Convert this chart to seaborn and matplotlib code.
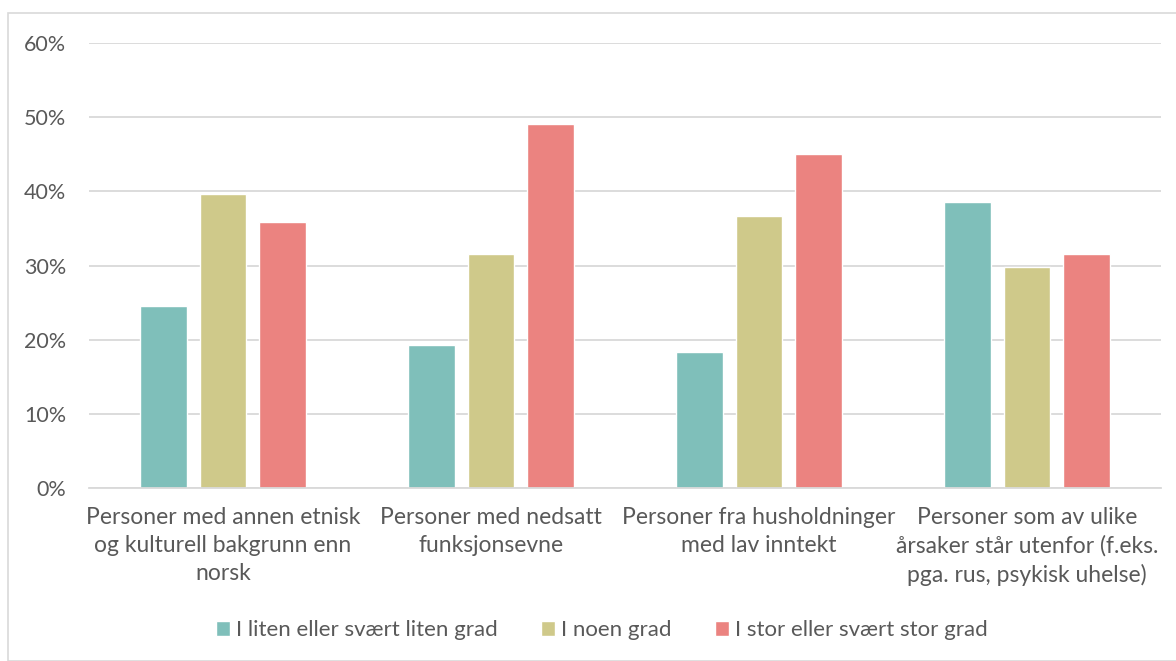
import pandas as pd
import matplotlib.pyplot as plt
import seaborn as sns
from matplotlib.ticker import PercentFormatter
from matplotlib.patches import Rectangle

categories = [
    "Personer med annen etnisk\nog kulturell bakgrunn enn\nnorsk",
    "Personer med nedsatt\nfunksjonsevne",
    "Personer fra husholdninger\nmed lav inntekt",
    "Personer som av ulike\nårsaker står utenfor (f.eks.\npga. rus, psykisk uhelse)",
]
series = ["I liten eller svært liten grad", "I noen grad", "I stor eller svært stor grad"]
liten = [24.5, 19.3, 18.3, 38.5]
noen = [39.6, 31.5, 36.7, 29.8]
stor = [35.8, 49.1, 45.0, 31.5]
colors = ["#7FBFBA", "#CFC98A", "#EB8380"]

df = pd.DataFrame({
    "kategori": categories * 3,
    "serie": [series[0]] * 4 + [series[1]] * 4 + [series[2]] * 4,
    "verdi": liten + noen + stor,
})

sns.set_style("white")
plt.rcParams['font.family'] = ['Lato', 'DejaVu Sans']
txt = "#595959"

fig = plt.figure(figsize=(11.76, 6.61), dpi=100)
ax = fig.add_axes([89 / 1176, 1 - 488 / 661, (1161 - 89) / 1176, (488 - 43) / 661])

sns.barplot(data=df, x="kategori", y="verdi", hue="serie", palette=colors,
            saturation=1, width=0.665, gap=0.22, ax=ax, legend=True)

ax.set_ylim(0, 60)
ax.set_xlim(-0.5, 3.5)
ax.set_yticks(range(0, 61, 10))
ax.yaxis.set_major_formatter(PercentFormatter(decimals=0))
ax.grid(axis="y", color="#D9D9D9", linewidth=1.3)
ax.set_axisbelow(True)
for s in ["top", "right", "left"]:
    ax.spines[s].set_visible(False)
ax.spines["bottom"].set_color("#D9D9D9")
ax.spines["bottom"].set_linewidth(1.3)
ax.set_xlabel("")
ax.set_ylabel("")
ax.tick_params(axis="x", length=0, labelsize=16.5, colors=txt, pad=14)
ax.tick_params(axis="y", length=0, labelsize=15.5, colors=txt, pad=16.5)
for lab in ax.get_xticklabels():
    lab.set_linespacing(1.4)

ax.legend(loc="center", bbox_to_anchor=(602 / 1176, 1 - 630 / 661),
          bbox_transform=fig.transFigure, ncol=3, frameon=False,
          fontsize=16, labelcolor=txt, handlelength=0.64, handleheight=0.64,
          handletextpad=0.27, columnspacing=1.95)

# chart border
fig.patches.append(Rectangle((8 / 1176, 0), 1.0, 1 - 13 / 661, transform=fig.transFigure,
                             fill=False, edgecolor="#D9D9D9", linewidth=1.2))

fig.savefig("out.png", dpi=100, facecolor="white")
